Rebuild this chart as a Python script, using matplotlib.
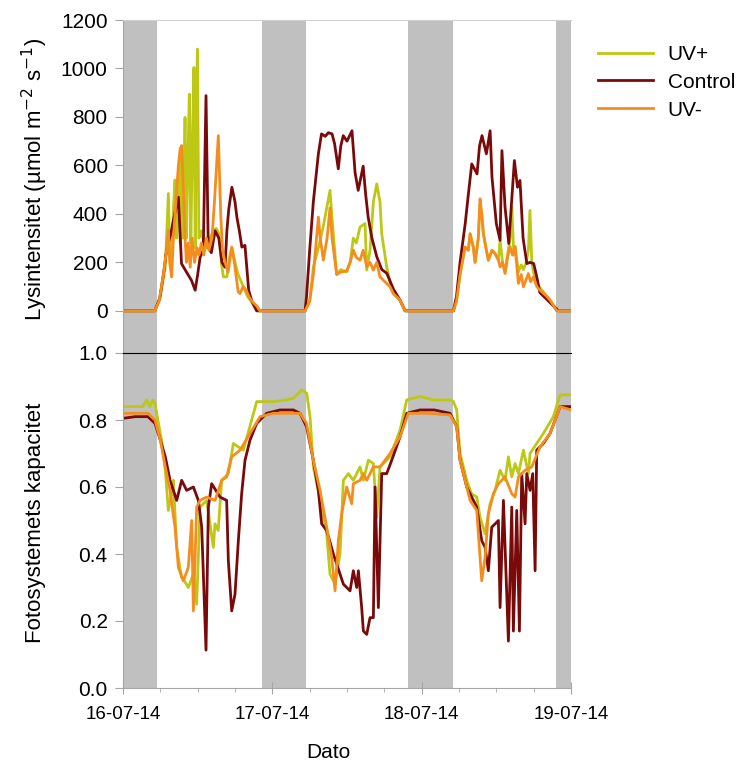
import numpy as np
import matplotlib
matplotlib.use('Agg')
import matplotlib.pyplot as plt
from matplotlib.ticker import MultipleLocator

plt.rcParams['font.family'] = ['Liberation Sans', 'DejaVu Sans']

# hours since 16-07-14 00:00
night_start = [0.0, 22.3, 45.8, 69.6]
night_end = [5.5, 29.4, 53.1, 72.0]
date_labels = ['16-07-14', '17-07-14', '18-07-14', '19-07-14']

# light intensity (umol m-2 s-1)
uvp_light_t = [0, 5.1, 6.0, 6.8, 7.29, 7.5, 7.8, 8.1, 8.36, 8.6, 8.8, 9.0, 9.2, 9.43, 9.6, 9.8, 9.97,
               10.2, 10.45, 10.66, 10.9, 11.15, 11.4, 11.6, 11.8, 11.95, 12.2, 12.6, 13.0, 13.5, 14.0,
               14.5, 15.0, 15.4, 15.8, 16.13, 16.7, 17.0, 17.5, 18.0, 18.5, 19.0, 19.5, 20.0, 20.7, 21.5,
               29.26, 30.0, 30.59, 31.4, 32.2, 33.27, 33.6, 34.34, 35.0, 35.95, 36.5, 37.02, 37.5, 38.1,
               38.9, 39.17, 39.7, 40.24, 40.78, 41.3, 41.58, 42.38, 42.9, 43.45, 44.53, 45.33,
               53.1, 53.6, 54.17, 54.97, 55.5, 55.78, 56.3, 56.58, 57.1, 57.38, 57.65, 57.92, 58.4, 58.72,
               59.3, 59.8, 60.33, 60.6, 61.0, 61.4, 61.8, 62.21, 62.5, 62.8, 63.01, 63.55, 64.0, 64.35,
               64.8, 65.15, 65.4, 65.7, 65.96, 66.5, 67.03, 68.1, 68.64, 69.71, 72]
uvp_light = [0, 0, 60, 180, 484, 250, 200, 420, 540, 300, 480, 600, 280, 660, 300, 560, 798,
             300, 650, 894, 280, 700, 1004, 260, 820, 1080, 300, 330, 280, 260, 300,
             330, 340, 320, 200, 140, 140, 210, 260, 200, 150, 120, 90, 60, 35, 0,
             0, 40, 180, 260, 350, 497, 380, 150, 170, 160, 200, 300, 280, 346,
             360, 168, 250, 450, 524, 450, 318, 181, 120, 71, 44, 0,
             0, 40, 150, 263, 250, 318, 263, 200, 300, 440, 400, 318, 250, 209,
             250, 236, 210, 291, 200, 160, 230, 300, 428, 230, 265, 160, 190, 170,
             200, 250, 414, 200, 160, 110, 95, 60, 44, 0, 0]

ctrl_light_t = [0, 5.1, 5.9, 6.5, 7.0, 7.8, 8.3, 8.9, 9.4, 10.2, 11.0, 11.6, 12.0, 12.4, 12.9, 13.34,
                13.7, 14.2, 14.8, 15.4, 15.9, 16.4, 16.7, 17.0, 17.5, 18.0, 18.3, 18.7, 19.1, 19.6,
                20.2, 20.7, 21.49,
                29.26, 29.5, 30.0, 30.59, 31.4, 31.9, 32.5, 33.0, 33.6, 34.0, 34.6, 35.0, 35.4,
                36.0, 36.8, 37.3, 37.8, 38.6, 39.0, 39.4, 40.0, 40.8, 41.6, 42.4, 43.45, 44.53, 45.33,
                53.1, 53.6, 54.17, 55.0, 55.5, 56.05, 56.9, 57.3, 57.7, 58.4, 59.0, 59.3, 60.0, 60.6,
                60.9, 61.4, 62.0, 62.9, 63.4, 63.8, 64.3, 64.9, 65.4, 66.0, 66.5, 67.0, 68.0, 68.7,
                70.0, 72]
ctrl_light = [0, 0, 50, 150, 250, 332, 400, 469, 195, 160, 126, 85, 150, 222, 250, 888,
              263, 240, 330, 300, 200, 180, 332, 420, 510, 450, 387, 330, 263, 270,
              85, 40, 0,
              0, 60, 250, 450, 648, 730, 720, 735, 730, 690, 586, 680, 723,
              700, 743, 570, 497, 597, 480, 387, 300, 222, 170, 155, 90, 44, 0,
              0, 60, 200, 360, 480, 606, 565, 680, 723, 648, 743, 552, 360, 291,
              661, 428, 278, 620, 510, 538, 300, 195, 200, 195, 140, 75, 50, 32,
              0, 0]

uvm_light_t = [0, 5.1, 5.8, 6.5, 7.0, 7.29, 7.5, 7.82, 8.1, 8.5, 8.9, 9.2, 9.43, 9.7, 9.97, 10.2, 10.5,
               10.8, 11.1, 11.5, 11.9, 12.2, 12.6, 13.0, 13.4, 13.8, 14.3, 14.7, 15.32, 15.7, 16.0,
               16.4, 16.9, 17.47, 17.9, 18.5, 18.8, 19.3, 19.8, 20.2, 20.7, 21.5, 22.0,
               29.26, 30.0, 30.59, 31.4, 31.7, 32.2, 32.8, 33.27, 33.6, 34.34, 35.0, 35.95, 36.5,
               37.02, 37.5, 38.1, 38.6, 39.17, 39.7, 40.24, 40.78, 41.3, 42.38, 42.9, 43.45, 44.53,
               45.33,
               53.1, 53.6, 54.17, 54.97, 55.5, 55.78, 56.3, 56.58, 57.1, 57.38, 57.65, 57.92, 58.4,
               58.72, 59.3, 59.8, 60.33, 60.6, 61.0, 61.4, 61.8, 62.21, 62.6, 63.01, 63.55, 64.0,
               64.35, 64.8, 65.15, 65.5, 65.96, 66.5, 67.03, 68.1, 68.64, 69.71, 72]
uvm_light = [0, 0, 40, 150, 250, 332, 200, 140, 300, 450, 600, 670, 682, 500, 300, 200, 280,
             180, 300, 200, 260, 230, 280, 230, 300, 250, 300, 450, 723, 400, 250,
             200, 160, 263, 200, 80, 71, 100, 85, 60, 40, 20, 0,
             0, 40, 150, 387, 300, 209, 300, 425, 300, 150, 160, 165, 200,
             250, 220, 209, 250, 181, 200, 168, 200, 140, 113, 100, 71, 44,
             0,
             0, 40, 150, 263, 250, 318, 263, 200, 300, 462, 400, 318, 250,
             209, 250, 236, 210, 181, 200, 154, 220, 265, 230, 265, 113, 150,
             99, 130, 154, 120, 140, 100, 85, 60, 44, 0, 0]

# photosystem capacity
uvp_cap_t = [0, 3.2, 3.8, 4.3, 4.8, 5.14, 5.6, 6.2, 6.8, 7.29, 7.8, 8.09, 8.63, 9.4, 10.2, 10.5, 11.3,
             11.84, 12.38, 13.45, 14.52, 14.79, 15.3, 15.86, 16.93, 17.74, 18.5, 19.34, 20.68, 21.49,
             23.0, 24.2, 26.31, 27.38, 28.72, 29.52, 30.06, 30.59, 31.67, 32.74, 33.27, 34.08, 34.88,
             35.42, 36.22, 37.02, 38.1, 38.63, 39.44, 40.24, 40.78, 41.31, 42.92, 44.53, 45.6, 47.74,
             49.88, 52.56, 53.1, 53.63, 54.17, 55.24, 56.0, 56.85, 57.38, 58.19, 58.99, 59.8, 60.6,
             61.4, 61.94, 62.48, 63.01, 63.55, 64.35, 65.15, 65.42, 66.49, 67.56, 69.17, 70.24, 72]
uvp_cap = [0.84, 0.84, 0.86, 0.84, 0.86, 0.85, 0.80, 0.74, 0.65, 0.53, 0.58, 0.62, 0.42, 0.33, 0.31,
           0.30, 0.34, 0.25, 0.54, 0.56, 0.42, 0.49, 0.47, 0.62, 0.64, 0.73, 0.72, 0.71, 0.80, 0.855,
           0.855, 0.855, 0.86, 0.865, 0.89, 0.88, 0.81, 0.66, 0.56, 0.46, 0.34, 0.31, 0.40,
           0.62, 0.64, 0.62, 0.66, 0.62, 0.68, 0.67, 0.51, 0.66, 0.69, 0.77, 0.86, 0.87,
           0.86, 0.86, 0.855, 0.83, 0.70, 0.62, 0.58, 0.57, 0.51, 0.46, 0.55, 0.59, 0.65,
           0.62, 0.69, 0.63, 0.67, 0.64, 0.71, 0.64, 0.70, 0.73, 0.76, 0.81, 0.875, 0.875]

ctrl_cap_t = [0, 2, 4.0, 5.14, 6.0, 6.8, 7.56, 8.63, 9.43, 10.23, 11.31, 12.11, 12.65, 13.34, 13.72,
              14.25, 15.59, 16.66, 16.93, 17.47, 18.0, 18.54, 19.07, 19.61, 20.41, 21.49, 23.09, 25.24,
              27.38, 28.45, 29.5, 30.59, 31.4, 31.93, 32.74, 33.81, 34.88, 35.42, 36.49, 37.02, 37.56,
              37.83, 38.36, 38.63, 39.17, 39.7, 40.24, 40.51, 41.04, 41.58, 42.38, 43.19, 44.53, 45.6,
              47.74, 50, 52.56, 53.63, 54.17, 55.24, 56.85, 57.65, 58.19, 58.72, 59.26, 59.8, 60.33,
              60.6, 61.14, 61.94, 62.48, 62.74, 63.28, 63.71, 64.08, 64.62, 64.89, 65.42, 65.85, 66.23,
              66.49, 67.56, 68.64, 70.24, 72]
ctrl_cap = [0.805, 0.81, 0.81, 0.79, 0.74, 0.69, 0.62, 0.56, 0.62, 0.59, 0.60, 0.56, 0.48, 0.113, 0.54,
            0.61, 0.57, 0.56, 0.38, 0.23, 0.28, 0.44, 0.58, 0.68, 0.74, 0.79, 0.82, 0.83,
            0.83, 0.82, 0.78, 0.68, 0.59, 0.49, 0.47, 0.40, 0.34, 0.31, 0.29, 0.35, 0.30,
            0.35, 0.24, 0.17, 0.16, 0.21, 0.21, 0.60, 0.24, 0.64, 0.64, 0.68, 0.75, 0.82,
            0.83, 0.83, 0.82, 0.78, 0.68, 0.60, 0.54, 0.44, 0.42, 0.35, 0.48, 0.49, 0.50,
            0.24, 0.56, 0.14, 0.54, 0.17, 0.53, 0.17, 0.64, 0.49, 0.64, 0.59, 0.64, 0.35,
            0.71, 0.73, 0.76, 0.84, 0.84]

uvm_cap_t = [0, 4.0, 5.14, 6.0, 6.8, 7.56, 8.36, 8.9, 9.7, 10.5, 11.04, 11.31, 11.84, 12.38, 13.45,
             14.79, 15.86, 16.66, 17.47, 18.81, 20.41, 22.02, 24.16, 27, 28.45, 29.5, 30.59, 31.67,
             32.74, 33.54, 34.08, 34.61, 35.15, 35.95, 36.76, 37.02, 38.1, 38.63, 39.17, 40.24, 41.31,
             42.92, 44.53, 45.86, 49, 52.56, 53.63, 54.17, 55.78, 56.85, 57.65, 58.19, 58.72, 59.53,
             60.33, 61.4, 62.48, 63.01, 63.55, 64.62, 65.69, 67.03, 68.64, 70.24, 72]
uvm_cap = [0.82, 0.82, 0.80, 0.74, 0.66, 0.59, 0.48, 0.36, 0.32, 0.36, 0.50, 0.23, 0.54, 0.56, 0.57,
           0.56, 0.62, 0.63, 0.69, 0.71, 0.76, 0.81, 0.82, 0.82, 0.82, 0.79, 0.68, 0.59,
           0.48, 0.39, 0.29, 0.44, 0.52, 0.60, 0.55, 0.61, 0.62, 0.64, 0.62, 0.66, 0.66,
           0.70, 0.75, 0.82, 0.82, 0.815, 0.78, 0.68, 0.56, 0.53, 0.32, 0.39, 0.52, 0.58,
           0.61, 0.63, 0.58, 0.57, 0.63, 0.65, 0.66, 0.72, 0.76, 0.84, 0.83]

colors = {'UV+': '#bcc814', 'Control': '#7a0a0a', 'UV-': '#f58d1e'}
spine_grey = '#a6a6a6'

fig = plt.figure(figsize=(7.52, 7.66), dpi=100)
ax1 = fig.add_axes([123 / 752, 1 - 353 / 766, 448 / 752, 333 / 766])
ax2 = fig.add_axes([123 / 752, 1 - 688 / 766, 448 / 752, 335 / 766])

for ax in (ax1, ax2):
    for s, e in zip(night_start, night_end):
        ax.axvspan(s, e, color='#c0c0c0', lw=0, zorder=0)
    ax.set_xlim(0, 72)
    ax.spines['right'].set_visible(False)
    ax.spines['left'].set_color(spine_grey)
    ax.tick_params(axis='y', direction='out', length=6, color=spine_grey, labelsize=15, pad=5)

lw = 2.0
ax1.plot(uvp_light_t, uvp_light, color=colors['UV+'], lw=lw, label='UV+')
ax1.plot(ctrl_light_t, ctrl_light, color=colors['Control'], lw=lw, label='Control')
ax1.plot(uvm_light_t, uvm_light, color=colors['UV-'], lw=lw, label='UV-')
ax1.set_ylim(-174, 1200)
ax1.set_yticks(np.arange(0, 1201, 200))
ax1.set_xticks([])
ax1.spines['bottom'].set_visible(False)
ax1.spines['top'].set_color('#d0d0d0')

ax2.plot(uvp_cap_t, uvp_cap, color=colors['UV+'], lw=lw)
ax2.plot(ctrl_cap_t, ctrl_cap, color=colors['Control'], lw=lw)
ax2.plot(uvm_cap_t, uvm_cap, color=colors['UV-'], lw=lw)
ax2.set_ylim(0, 1.0)
ax2.set_yticks(np.arange(0, 1.01, 0.2))
ax2.set_yticklabels([f'{v:.1f}' for v in np.arange(0, 1.01, 0.2)])
ax2.spines['top'].set_color('black')
ax2.spines['bottom'].set_color(spine_grey)
ax2.set_xticks([0, 24, 48, 72])
ax2.set_xticklabels(date_labels)
ax2.xaxis.set_minor_locator(MultipleLocator(6))
ax2.tick_params(axis='x', which='major', direction='inout', length=8, color=spine_grey,
                labelsize=13.5, pad=9)
ax2.tick_params(axis='x', which='minor', direction='out', length=3, color=spine_grey)

fig.text(35 / 752, 1 - 179 / 766, 'Lysintensitet (µmol m$^{\\mathsf{-2}}$ s$^{\\mathsf{-1}}$)',
         rotation=90, ha='center', va='center', fontsize=16)
fig.text(36 / 752, 1 - 523 / 766, 'Fotosystemets kapacitet', rotation=90,
         ha='center', va='center', fontsize=16)
fig.text(328 / 752, 1 - 752 / 766, 'Dato', ha='center', va='center', fontsize=15)

fig.legend(loc='upper left', bbox_to_anchor=(598 / 752, 1 - 45 / 766), frameon=False,
           fontsize=15, handlelength=2.65, handletextpad=0.7, labelspacing=0.42,
           borderpad=0, borderaxespad=0)

fig.savefig('out.png', dpi=100)
